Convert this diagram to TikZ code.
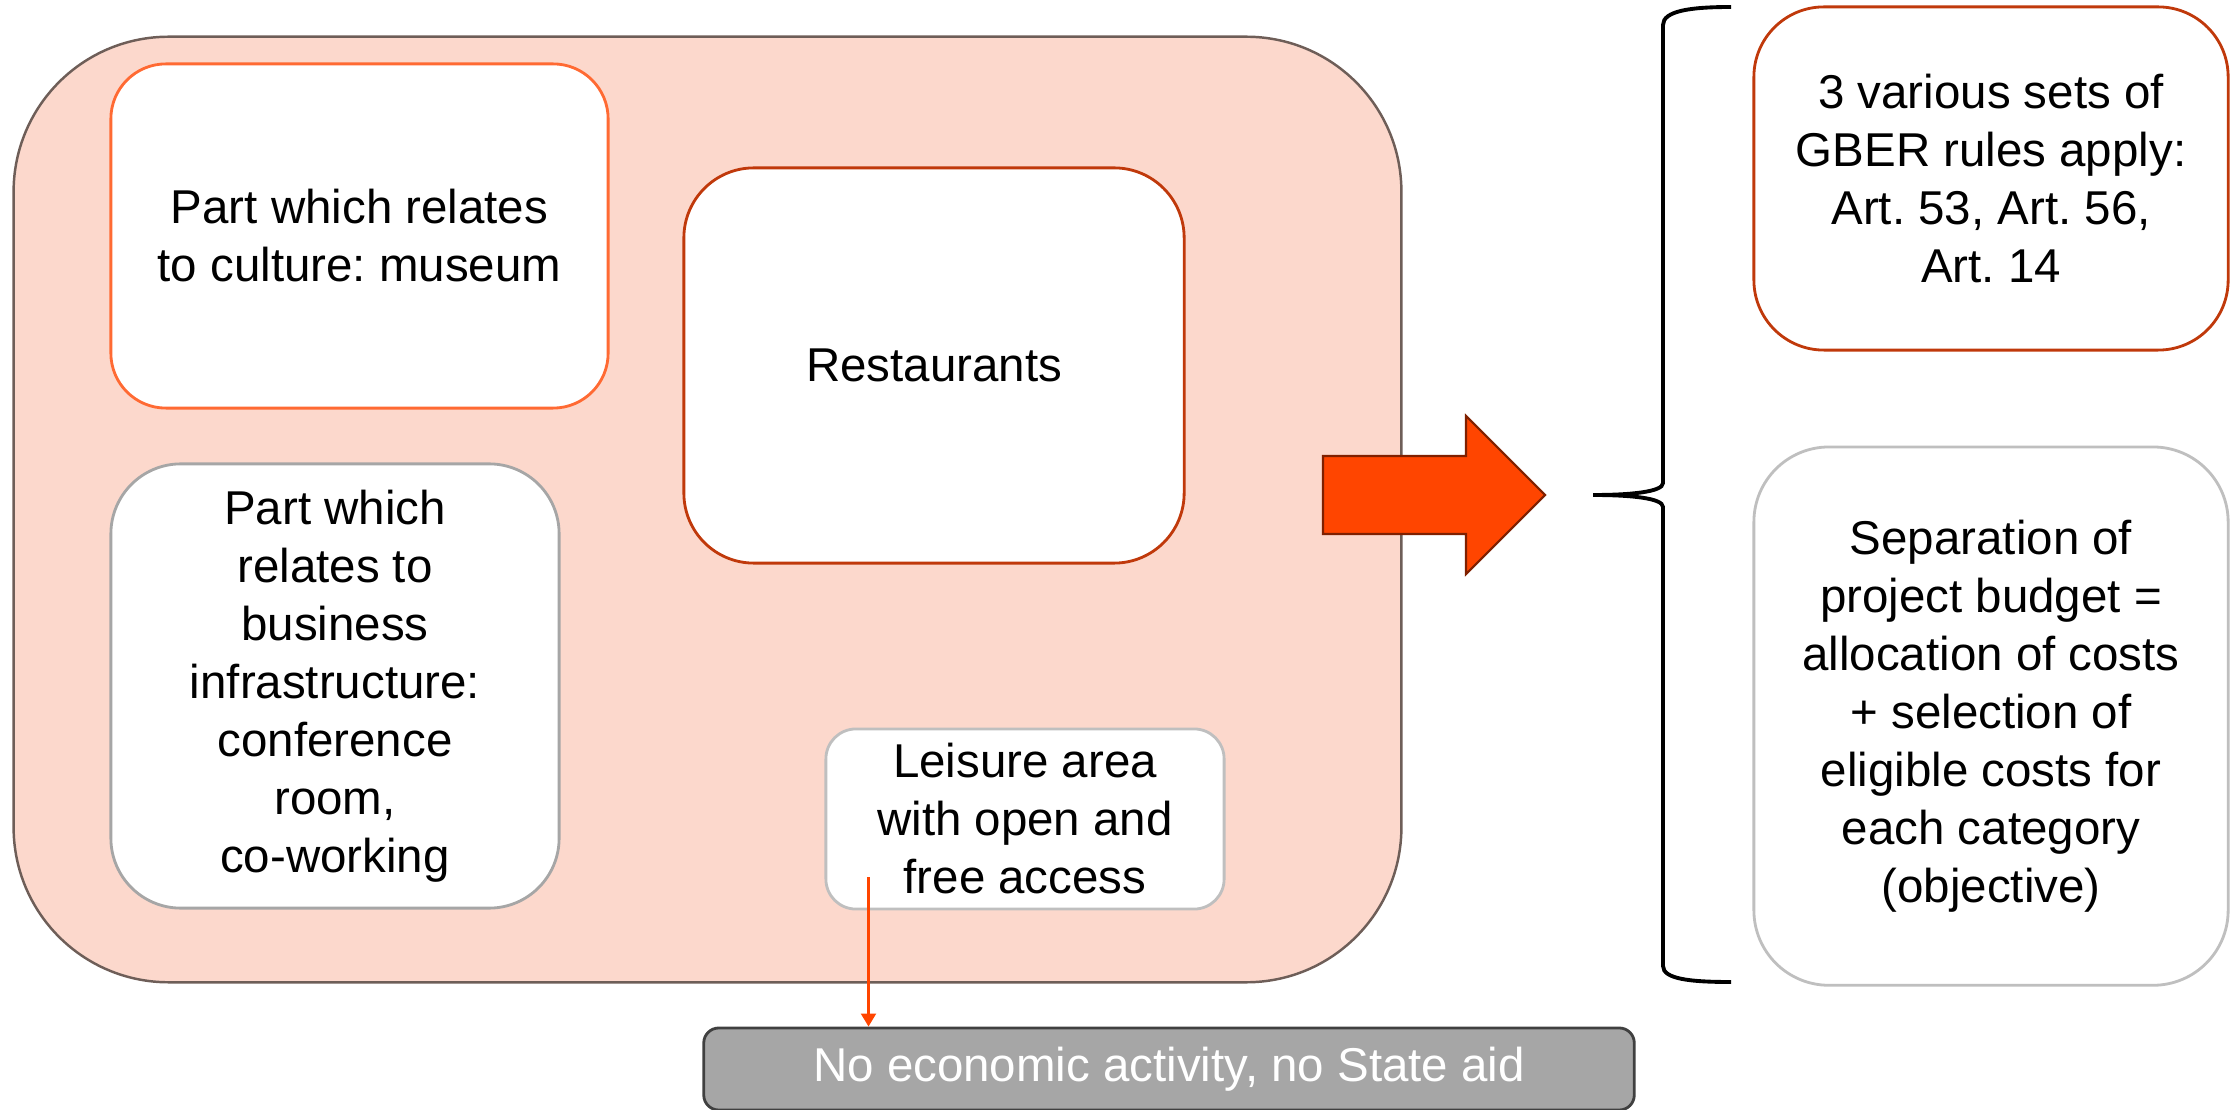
\documentclass[tikz,border=0pt]{standalone}
\usepackage{fontspec}
\setmainfont{Liberation Sans}
\frenchspacing
\usetikzlibrary{positioning,arrows.meta}
\definecolor{frame}{HTML}{6E5E58}
\definecolor{blush}{HTML}{FCD8CC}
\definecolor{flame}{HTML}{FF4500}
\definecolor{ember}{HTML}{7F2000}
\definecolor{rust}{HTML}{C0390B}
\definecolor{tangerine}{HTML}{FF6A33}
\definecolor{silver}{HTML}{BFBFBF}
\definecolor{ash}{HTML}{A6A6A6}
\definecolor{slate}{HTML}{404040}

\begin{document}
\begin{tikzpicture}[x=0.01cm, y=-0.01cm,
  part/.style={draw, fill=white, line width=0.8pt, align=center, inner sep=0pt,
               font=\fontsize{13.5}{16.5}\selectfont},
  arr/.style={-{Triangle[length=1.3mm, width=1.5mm]}, line width=0.6pt, flame}
]
  \useasboundingbox (0,0) rectangle (2231,1110);
  % the whole project
  \node[draw=frame, fill=blush, line width=0.7pt, rounded corners=1.55cm,
        minimum width=13.87cm, minimum height=9.45cm] (project) at (707.5,509.5) {};
  \node[part, draw=tangerine, rounded corners=0.55cm, minimum width=4.97cm, minimum height=3.44cm]
    (museum) at (359.5,236) {Part which relates\\to culture: museum};
  \node[part, draw=rust, rounded corners=0.7cm, minimum width=5cm, minimum height=3.95cm]
    (restaurants) at (934,365.5) {Restaurants};
  \node[part, draw=ash, rounded corners=0.7cm, minimum width=4.48cm, minimum height=4.44cm]
    (business) at (335,686) {Part which\\relates to\\business\\infrastructure:\\conference\\room,\\co-working};
  \node[part, draw=silver, rounded corners=0.3cm, minimum width=3.98cm, minimum height=1.8cm]
    (leisure) at (1025,819) {Leisure area\\with open and\\free access};
  \node[part, draw=slate, fill=ash, text=white, rounded corners=0.15cm,
        minimum width=9.3cm, minimum height=0.82cm]
    (noaid) at (1169,1069) {No economic activity, no State aid};
  \coordinate (lsrc) at ([xshift=0.44cm, yshift=0.33cm]leisure.south west);
  \draw[arr] (lsrc) -- (lsrc |- noaid.north);
  % big arrow
  \draw[fill=flame, draw=ember, line width=0.6pt]
    (1323,456) -- (1466,456) -- (1466,416) -- (1545,495) -- (1466,574) -- (1466,534) -- (1323,534) -- cycle;
  % right side
  \node[part, draw=rust, rounded corners=0.7cm, minimum width=4.74cm, minimum height=3.43cm]
    (gber) at (1991,178.5) {3 various sets of\\GBER rules apply:\\Art. 53, Art. 56,\\Art. 14};
  \node[part, draw=silver, rounded corners=0.75cm, minimum width=4.74cm, minimum height=5.38cm,
        below=0.94cm of gber]
    (budget) {Separation of\\project budget =\\allocation of costs\\+ selection of\\eligible costs for\\each category\\(objective)};
  \draw[line width=1.1pt]
    (1731,7) .. controls (1690,7) and (1663,11) .. (1663,25) -- (1663,483)
    .. controls (1663,492) and (1630,495) .. (1593,495)
    .. controls (1630,495) and (1663,498) .. (1663,507) -- (1663,966)
    .. controls (1663,979) and (1690,982) .. (1731,982);
\end{tikzpicture}
\end{document}
